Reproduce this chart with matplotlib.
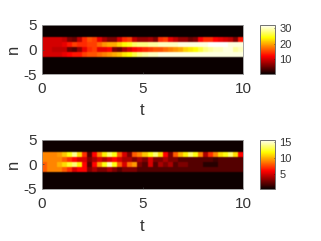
import matplotlib
matplotlib.use("Agg")
import matplotlib.pyplot as plt
import numpy as np

plt.rcParams['font.family'] = ['Liberation Sans', 'DejaVu Sans']
plt.rcParams['axes.unicode_minus'] = False

# time step columns, rows n = -5..5 (only 4 rows carry signal)
top_n2 = [10,10,10,10,9,6,5,9,14,16,15,11,8,6,6,10,14,15,9,7,7,8,6,14,15,11,9,7,7,5,6,12,14,14,12,11,10,9,6,13]
top_n1 = [10,10,10,10,11,13,15,14,14,15,15,17,19,20,20,22,24,25,27,28,28,29,29,30,30,30,30,31,31,31,31,31,31,32,32,32,32,31,31,31]
top_n0 = [10,10,9,9,9,5,4,7,11,14,15,11,11,12,6,5,8,10,12,13,14,15,16,16,17,18,19,20,22,23,24,26,28,29,30,30,31,31,29,30]
top_m1 = [10,10,10,10,11,12,13,13,15,16,16,17,18,19,20,21,23,24,26,28,29,30,30,31,31,31,31,31,31,31,31,31,31,31,31,31,31,31,31,31]

bot_n2 = [9,9,9,9.5,10.5,12,14,11,7,2,6,9,11.5,13.5,12,8,5,3,8,9,10.5,12,13.5,11,6,3,8,10,11.5,13.5,12,9,4,7,9,11,12,13.5,11,6]
bot_n1 = [9,9,9,9,8,7,6,5,5,3,4,5,4,5,6,5,4,4,3,4,3,5,3,3,4,3,3,2,2,2,2,2,2,2,1.5,2,2,2,2,2]
bot_n0 = [8,9,9,10,11,12.5,13.5,11.5,6,2,6,9.5,12,14.5,12,8,5,8.5,9.5,3,2,5,2,4,3,4,2,3,3,2,2,2,1,1,1,2,2,2,2,2]
bot_m1 = [8,9,9,9,8,7,5,6,6,3,4,3,3,4,3,2,3,3,3,2,2,2,2,2,2,2,2,2,2,2,2,2,2,2,2,2,2,2,2,2]

n_vals = np.arange(-5, 6)
t_ticks = [0, 5, 10]
n_ticks = [-5, 0, 5]
kernel = np.array([0.2, 0.6, 0.2])


def soften(img, dpi):
    # reference is a downscaled screenshot, cells have slightly soft edges
    out = np.pad(img, ((1, 1), (1, 1), (0, 0)), mode="edge")
    out = np.apply_along_axis(lambda v: np.convolve(v, kernel, mode="same"), 0, out)
    out = np.apply_along_axis(lambda v: np.convolve(v, kernel, mode="same"), 1, out)
    return out[1:-1, 1:-1], 0, 0


def make_grid(m1, n0, n1, n2, floor):
    grid = np.full((len(n_vals), len(n0)), floor, dtype=float)
    grid[4] = m1
    grid[5] = n0
    grid[6] = n1
    grid[7] = n2
    return grid


def draw_panel(fig, box, cbox, grid, clim, cticks):
    ax = fig.add_axes(box)
    im = ax.imshow(grid, origin="lower", aspect="auto", cmap="hot", vmin=clim[0], vmax=clim[1],
                   extent=[0, 10, -5.5, 5.5], interpolation="nearest")
    im.set_agg_filter(soften)
    ax.set_xlim(0, 10)
    ax.set_ylim(-5, 5)
    ax.set_xticks(t_ticks)
    ax.set_yticks(n_ticks)
    ax.tick_params(direction="in", length=1.5, width=0.5, color="#404040", labelsize=11, labelcolor="#333333")
    ax.tick_params(axis="x", pad=6)
    ax.tick_params(axis="y", pad=3.5)
    ax.set_xlabel("t", fontsize=12, color="#333333")
    ax.set_ylabel("n", fontsize=12, color="#333333")
    ax.xaxis.set_label_coords(0.5, -0.6)
    ax.yaxis.set_label_coords(-0.105, 0.5)
    for s in ax.spines.values():
        s.set_linewidth(0.6)
        s.set_color("#999999")

    cax = fig.add_axes(cbox)
    cb = fig.colorbar(im, cax=cax)
    cb.set_ticks(cticks)
    cb.ax.tick_params(direction="in", length=1, width=0.4, labelsize=8, pad=3, labelcolor="#333333")
    cb.outline.set_linewidth(0.7)
    cb.outline.set_edgecolor("#707070")


W, H = 321, 241
fig = plt.figure(figsize=(W / 100, H / 100), dpi=100)

top = make_grid(top_m1, top_n0, top_n1, top_n2, 0.5)
bot = make_grid(bot_m1, bot_n0, bot_n1, bot_n2, 0.4)

draw_panel(fig, [42 / W, 1 - 74 / H, 201 / W, 49 / H], [260 / W, 1 - 74 / H, 15 / W, 49 / H],
           top, (0.5, 32), [10, 20, 30])
draw_panel(fig, [42 / W, 1 - 189 / H, 201 / W, 49.5 / H], [260 / W, 1 - 189 / H, 15 / W, 49.5 / H],
           bot, (0.3, 15.7), [5, 10, 15])

fig.savefig("out.png", dpi=100)
